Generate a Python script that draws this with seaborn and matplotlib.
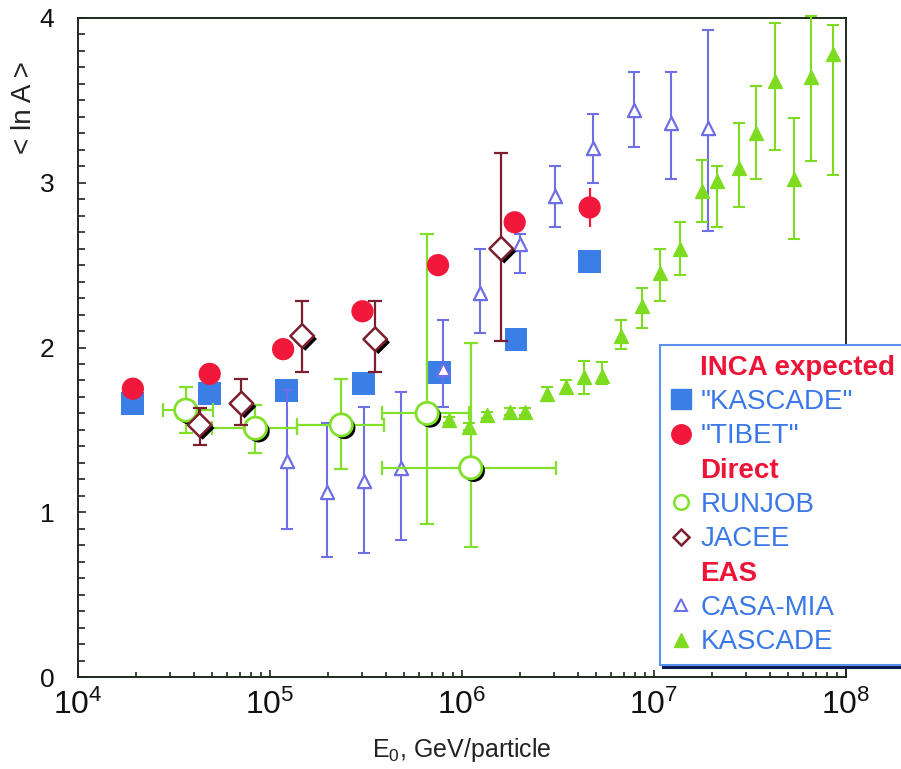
import numpy as np
import pandas as pd
import matplotlib
matplotlib.use("Agg")
import matplotlib.pyplot as plt
import matplotlib.patheffects as pe
from matplotlib.lines import Line2D
from matplotlib.ticker import LogLocator, MultipleLocator, FixedLocator
import seaborn as sns

# ---- data: mean logarithmic mass <ln A> versus primary energy ----
inca_kascade_E = [1.93e4, 4.85e4, 1.22e5, 3.06e5, 7.6e5, 1.91e6, 4.62e6]
inca_kascade_lnA = [1.66, 1.72, 1.74, 1.78, 1.85, 2.05, 2.52]

inca_tibet_E = [1.93e4, 4.85e4, 1.17e5, 3.03e5, 7.5e5, 1.88e6, 4.62e6]
inca_tibet_lnA = [1.75, 1.84, 1.99, 2.22, 2.50, 2.76, 2.85]
inca_tibet_err = [0.0, 0.0, 0.0, 0.0, 0.0, 0.0, 0.12]

runjob_E = [3.64e4, 8.4e4, 2.35e5, 6.58e5, 1.11e6]
runjob_lnA = [1.62, 1.51, 1.53, 1.60, 1.27]
runjob_E_lo = [2.77e4, 4.97e4, 1.39e5, 3.84e5, 3.84e5]
runjob_E_hi = [5.03e4, 1.39e5, 3.93e5, 1.09e6, 3.08e6]
runjob_lnA_lo = [1.48, 1.36, 1.26, 0.93, 0.79]
runjob_lnA_hi = [1.76, 1.65, 1.81, 2.69, 2.03]

jacee_E = [4.3e4, 7.1e4, 1.47e5, 3.53e5, 1.6e6]
jacee_lnA = [1.53, 1.66, 2.07, 2.05, 2.60]
jacee_lo = [1.41, 1.53, 1.85, 1.85, 2.04]
jacee_hi = [1.63, 1.81, 2.28, 2.28, 3.18]

casa_E = [1.23e5, 1.99e5, 3.10e5, 4.82e5, 7.97e5, 1.24e6, 2.0e6, 3.04e6,
          4.80e6, 7.83e6, 1.23e7, 1.92e7]
casa_lnA = [1.31, 1.12, 1.19, 1.27, 1.87, 2.33, 2.63, 2.92, 3.21, 3.44, 3.36, 3.33]
casa_lo = [0.90, 0.73, 0.75, 0.83, 1.64, 2.09, 2.45, 2.73, 3.00, 3.22, 3.02, 2.71]
casa_hi = [1.74, 1.54, 1.64, 1.73, 2.17, 2.60, 2.69, 3.10, 3.42, 3.67, 3.67, 3.93]

kascade_E = [8.55e5, 1.09e6, 1.35e6, 1.78e6, 2.12e6, 2.77e6, 3.47e6, 4.30e6,
             5.34e6, 6.70e6, 8.61e6, 1.08e7, 1.36e7, 1.77e7, 2.14e7, 2.78e7,
             3.41e7, 4.28e7, 5.37e7, 6.58e7, 8.56e7]
kascade_lnA = [1.56, 1.52, 1.59, 1.61, 1.61, 1.72, 1.76, 1.82, 1.83, 2.07, 2.25,
               2.45, 2.60, 2.95, 3.01, 3.09, 3.30, 3.62, 3.02, 3.64, 3.78]
kascade_lo = [1.54, 1.50, 1.57, 1.59, 1.59, 1.68, 1.72, 1.72, 1.78, 1.99, 2.12,
              2.28, 2.44, 2.76, 2.73, 2.85, 3.02, 3.20, 2.66, 3.13, 3.05]
kascade_hi = [1.58, 1.54, 1.61, 1.63, 1.63, 1.76, 1.80, 1.92, 1.91, 2.17, 2.36,
              2.60, 2.76, 3.14, 3.10, 3.36, 3.59, 3.97, 3.39, 4.01, 3.96]

x_ticks = [1e4, 1e5, 1e6, 1e7, 1e8]
y_ticks = [0, 1, 2, 3, 4]

# ---- colours ----
C_SQUARE = "#3b7fe6"
C_RED = "#f2183c"
C_RUNJOB = "#80e02a"
C_JACEE = "#7b1f2e"
C_CASA = "#6e6ee6"
C_KASCADE = "#7ddc1f"
C_TEXT_BLUE = "#3a78e8"
C_HEAD = "#ee1437"
C_AXIS = "#1c2a1c"

sns.set_theme(style="ticks")
plt.rcParams["font.family"] = ["Liberation Sans", "DejaVu Sans"]
plt.rcParams["mathtext.fontset"] = "custom"
plt.rcParams["mathtext.rm"] = "Liberation Sans"
plt.rcParams["mathtext.it"] = "Liberation Sans:italic"
plt.rcParams["mathtext.bf"] = "Liberation Sans:bold"
plt.rcParams["mathtext.default"] = "regular"

fig = plt.figure(figsize=(9.01, 7.69), dpi=100)
ax = fig.add_axes([0.0866, 0.1196, 0.8524, 0.857])

shadow = [pe.SimplePatchShadow(offset=(2.2, -2.2), shadow_rgbFace="black", alpha=1.0),
          pe.Normal()]

def err_pair(center, lo, hi):
    c = np.asarray(center)
    return np.vstack([c - np.asarray(lo), np.asarray(hi) - c])

# INCA expectation, KASCADE-like composition (blue squares)
df_sq = pd.DataFrame({"E": inca_kascade_E, "lnA": inca_kascade_lnA})
sns.scatterplot(data=df_sq, x="E", y="lnA", ax=ax, marker="s", s=16.5**2,
                color=C_SQUARE, edgecolor="none", linewidth=0, zorder=3, legend=False)

# CASA-MIA (open triangles)
ax.errorbar(casa_E, casa_lnA, yerr=err_pair(casa_lnA, casa_lo, casa_hi), fmt="none",
            ecolor=C_CASA, elinewidth=1.5, capsize=4.5, capthick=1.5, zorder=4, clip_on=False)
df_casa = pd.DataFrame({"E": casa_E, "lnA": casa_lnA})
sns.scatterplot(data=df_casa, x="E", y="lnA", ax=ax, marker="^", s=9.5**2,
                facecolor="white", edgecolor=C_CASA, linewidth=1.6, zorder=5, legend=False)

# KASCADE (filled triangles)
ax.errorbar(kascade_E, kascade_lnA, yerr=err_pair(kascade_lnA, kascade_lo, kascade_hi),
            fmt="none", ecolor=C_KASCADE, elinewidth=1.5, capsize=4.5, capthick=1.5,
            zorder=4, clip_on=False)
df_kas = pd.DataFrame({"E": kascade_E, "lnA": kascade_lnA})
sns.scatterplot(data=df_kas, x="E", y="lnA", ax=ax, marker="^", s=10**2,
                color=C_KASCADE, edgecolor=C_KASCADE, linewidth=1, zorder=5, legend=False)

# RUNJOB (open circles, error bars in both coordinates)
ax.errorbar(runjob_E, runjob_lnA,
            xerr=err_pair(runjob_E, runjob_E_lo, runjob_E_hi),
            yerr=err_pair(runjob_lnA, runjob_lnA_lo, runjob_lnA_hi),
            fmt="none", ecolor=C_RUNJOB, elinewidth=1.6, capsize=5, capthick=1.6, zorder=6)
df_rj = pd.DataFrame({"E": runjob_E, "lnA": runjob_lnA})
sns.scatterplot(data=df_rj, x="E", y="lnA", ax=ax, marker="o", s=16**2,
                facecolor="white", edgecolor=C_RUNJOB, linewidth=2, zorder=7,
                legend=False, path_effects=shadow)

# JACEE (open diamonds)
ax.errorbar(jacee_E, jacee_lnA, yerr=err_pair(jacee_lnA, jacee_lo, jacee_hi), fmt="none",
            ecolor=C_JACEE, elinewidth=1.6, capsize=5, capthick=1.6, zorder=8)
df_ja = pd.DataFrame({"E": jacee_E, "lnA": jacee_lnA})
sns.scatterplot(data=df_ja, x="E", y="lnA", ax=ax, marker="D", s=12**2,
                facecolor="white", edgecolor=C_JACEE, linewidth=1.8, zorder=9,
                legend=False, path_effects=shadow)

# INCA expectation, TIBET-like composition (red circles)
ax.errorbar(inca_tibet_E, inca_tibet_lnA, yerr=inca_tibet_err, fmt="none",
            ecolor=C_RED, elinewidth=1.6, capsize=0, zorder=10)
df_ti = pd.DataFrame({"E": inca_tibet_E, "lnA": inca_tibet_lnA})
sns.scatterplot(data=df_ti, x="E", y="lnA", ax=ax, marker="o", s=16**2,
                color=C_RED, edgecolor="none", linewidth=0, zorder=11, legend=False)

# ---- axes ----
ax.set_xscale("log")
ax.set_xlim(1e4, 1e8)
ax.set_ylim(0, 4)
ax.xaxis.set_major_locator(FixedLocator(x_ticks))
ax.xaxis.set_minor_locator(LogLocator(base=10, subs=np.arange(2, 10), numticks=20))
ax.yaxis.set_major_locator(FixedLocator(y_ticks))
ax.yaxis.set_minor_locator(MultipleLocator(0.1))
ax.set_yticklabels([str(v) for v in y_ticks])

for sp in ax.spines.values():
    sp.set_color(C_AXIS)
    sp.set_linewidth(1.4)
    sp.set_visible(True)

ax.tick_params(axis="both", which="both", direction="in", top=False, right=False,
               color=C_AXIS, width=1.2)
ax.tick_params(axis="x", which="major", length=5, pad=9, labelsize=23, labelcolor="#111111")
ax.tick_params(axis="x", which="minor", length=3.5)
ax.tick_params(axis="y", which="major", length=6, pad=17, labelsize=19, labelcolor="#111111")
ax.tick_params(axis="y", which="minor", length=5)

ax.set_xlabel(r"E$_0$, GeV/particle", fontsize=18, color="#222222", labelpad=11)
ax.set_ylabel("")
fig.text(24 / 901, 1 - 108 / 769, "< ln A >", rotation=90, ha="center", va="center",
         fontsize=20, color="#222222")

# ---- legend with group headings ----
blank = Line2D([], [], linestyle="none", marker=None)
handles = [
    blank,
    Line2D([], [], linestyle="none", marker="s", markersize=14, color=C_SQUARE),
    Line2D([], [], linestyle="none", marker="o", markersize=14, color=C_RED),
    blank,
    Line2D([], [], linestyle="none", marker="o", markersize=10.5, markerfacecolor="white",
           markeredgecolor=C_RUNJOB, markeredgewidth=1.8),
    Line2D([], [], linestyle="none", marker="D", markersize=8, markerfacecolor="white",
           markeredgecolor=C_JACEE, markeredgewidth=1.8),
    blank,
    Line2D([], [], linestyle="none", marker="^", markersize=8.5, markerfacecolor="white",
           markeredgecolor=C_CASA, markeredgewidth=1.5),
    Line2D([], [], linestyle="none", marker="^", markersize=9.5, color=C_KASCADE),
]
labels = ["INCA expected", '"KASCADE"', '"TIBET"', "Direct", "RUNJOB", "JACEE",
          "EAS", "CASA-MIA", "KASCADE"]
headers = {0, 3, 6}

leg = fig.legend(handles, labels, loc="upper left", bbox_to_anchor=(0.7325, 0.5514),
                 bbox_transform=fig.transFigure, fontsize=20, frameon=True,
                 fancybox=False, handlelength=0.8, handletextpad=0.3,
                 labelspacing=0.3, borderpad=0.35, borderaxespad=0,
                 shadow={"color": "#0c1850", "alpha": 1.0})
leg.get_frame().set_edgecolor("#5a90f0")
leg.get_frame().set_linewidth(1.5)
leg.get_frame().set_facecolor("white")
for i, t in enumerate(leg.get_texts()):
    if i in headers:
        t.set_color(C_HEAD)
        t.set_fontweight("bold")
    else:
        t.set_color(C_TEXT_BLUE)

fig.savefig("out.png", dpi=100)
